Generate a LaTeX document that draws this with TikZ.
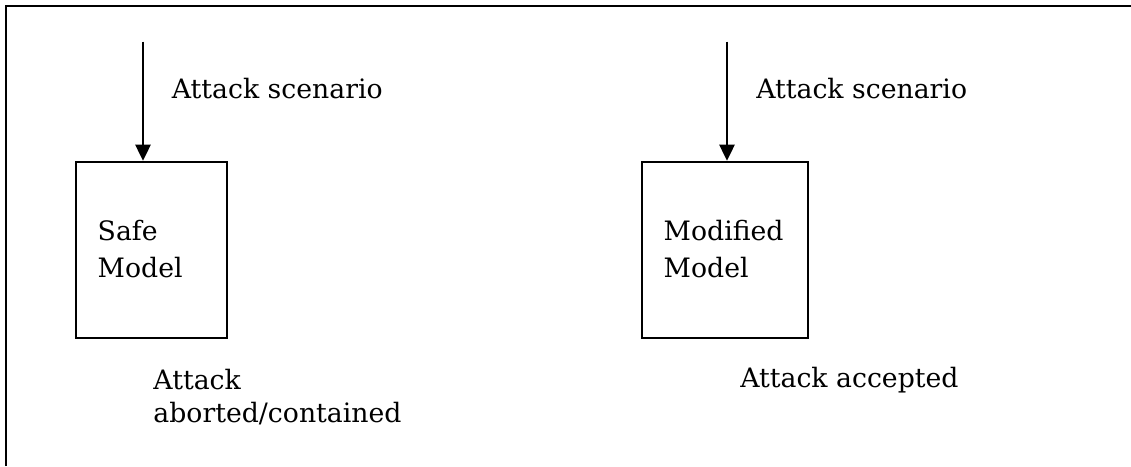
\documentclass[tikz,border=0pt]{standalone}
\usepackage{fontspec}
\setmainfont{DejaVu Serif}
\usetikzlibrary{arrows.meta}

\begin{document}
\begin{tikzpicture}[
  font=\fontsize{19}{26.5}\selectfont,
  frame/.style={draw=black, line width=1.6pt},
  model/.style={draw=black, line width=1.6pt, anchor=north west, align=left,
                inner xsep=0.54cm, inner ysep=0pt, text height=1.97cm,
                text depth=2.43cm},
  note/.style={anchor=base west, inner sep=0pt, align=left},
  e/.style={draw=black, line width=1.4pt, -{Triangle[width=0.38cm,length=0.4cm]}}
]
\useasboundingbox (0,0) rectangle (28.275,-11.65);

% outer frame
\draw[frame] (0.15,-11.65) -- (0.15,-0.15) -- (28.275,-0.15);

% the two models
\node[model, text width=2.69cm] (safe) at (1.875,-4.0175) {Safe\\Model};
\node[model, text width=3.07cm] (mod) at (16.025,-4.0175) {Modified\\Model};

% incoming attacks
\coordinate (in1) at (3.575,-1.0425);
\coordinate (in2) at (18.175,-1.0425);
\node[note] (scen1) at (4.29,-2.4575) {Attack scenario};
\node[note] (scen2) at (18.9,-2.45) {Attack scenario};

\draw[e] (in1) -- (in1 |- safe.north);
\draw[e] (in2) -- (in2 |- mod.north);

% outcomes (base = last line here)
\node[note, font=\fontsize{19}{23.4}\selectfont] (res1) at (3.83,-10.55) {Attack\\aborted/contained};
\node[note] (res2) at (18.5,-9.69) {Attack accepted};
\end{tikzpicture}
\end{document}
